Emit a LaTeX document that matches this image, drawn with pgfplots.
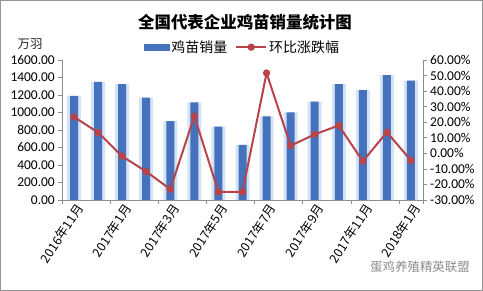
\documentclass[border=0pt]{standalone}
\usepackage{fontspec}
\setmainfont{Carlito}
\newfontfamily\cjk{Noto Sans CJK SC}
\usepackage{pgfplots}
\pgfplotsset{compat=1.18}
\usepackage{pgfplotstable}
\definecolor{barblue}{RGB}{68,114,188}
\definecolor{halo}{RGB}{212,226,245}
\definecolor{linered}{RGB}{184,68,74}
\definecolor{framegray}{RGB}{150,150,150}
\definecolor{axgray}{RGB}{140,140,140}

\pgfplotstableread{
x v
0 1190
1 1350
2 1325
3 1170
4 900
5 1115
6 838
7 630
8 955
9 1002
10 1124
11 1325
12 1257
13 1428
14 1363
}\bars

\pgfplotstableread{
x r
0 23.4
1 13.4
2 -1.9
3 -11.7
4 -23.1
5 23.9
6 -24.8
7 -24.8
8 51.6
9 4.9
10 12.2
11 17.9
12 -5.1
13 13.6
14 -4.6
}\ratio

\begin{document}
\begin{tikzpicture}
\path[use as bounding box] (0bp,0bp) rectangle (483bp,291bp);
\draw[framegray, line width=0.8bp] (0.8bp,0.8bp) rectangle (482.2bp,290.2bp);
\node[font=\cjk\bfseries\fontsize{16.5}{17}\selectfont] at (245bp,269bp) {全国代表企业鸡苗销量统计图};
\node[font=\cjk\fontsize{12.5}{13}\selectfont, text=black!85] at (30bp,247bp) {万羽};
\node[font=\cjk\fontsize{12.5}{13}\selectfont, text=black!45] at (420bp,24bp) {蛋鸡养殖精英联盟};
\begin{axis}[
  at={(62bp,91bp)}, anchor=south west,
  width=361bp, height=140bp, scale only axis,
  xmin=-0.5, xmax=14.5, ymin=0, ymax=1600,
  axis y line*=left, axis x line*=bottom,
  axis line style={axgray, line width=0.6bp},
  ytick={0,200,...,1600},
  tick style={axgray, line width=0.6bp},
  tick align=outside, major tick length=4bp,
  yticklabel style={font=\fontsize{13.5}{14}\selectfont, text=black, inner sep=1bp, xshift=-2bp},
  /pgf/number format/.cd, fixed, fixed zerofill, precision=2, 1000 sep={}, assume math mode=true,
  /pgfplots/.cd,
  xtick={0,2,...,14},
  xticklabels={2016年11月,2017年1月,2017年3月,2017年5月,2017年7月,2017年9月,2017年11月,2018年1月},
  x tick style={draw=none},
  xticklabel style={rotate=57, anchor=east, font=\cjk\fontsize{12.5}{13}\selectfont, inner sep=1bp, yshift=-6bp, xshift=3bp},
  extra x ticks={-0.5,1.5,3.5,5.5,7.5,9.5,11.5,13.5,14.5},
  extra x tick labels={},
  extra x tick style={x tick style={draw=axgray, line width=0.6bp}, major tick length=4bp, tick align=outside},
  clip=false,
]
\addplot[ybar, bar width=14bp, bar shift=0pt, fill=halo, draw=none] table[x=x,y=v]{\bars};
\addplot[ybar, bar width=8bp, bar shift=0pt, fill=barblue, draw=none] table[x=x,y=v]{\bars};
\end{axis}
\begin{axis}[
  at={(62bp,91bp)}, anchor=south west,
  width=361bp, height=140bp, scale only axis,
  xmin=-0.5, xmax=14.5, ymin=-30, ymax=60,
  axis y line*=right, axis x line=none,
  axis line style={axgray, line width=0.6bp},
  ytick={-30,-20,...,60},
  tick style={axgray, line width=0.6bp},
  tick align=outside, major tick length=4bp,
  yticklabel style={font=\fontsize{13.5}{14}\selectfont, text=black, anchor=west, inner sep=1bp, xshift=2bp},
  yticklabel={\pgfmathprintnumber[fixed,fixed zerofill,precision=2,assume math mode=true]{\tick}\%},
  legend columns=2,
  legend style={at={(0.5,1)}, anchor=south, yshift=2bp, draw=none, fill=none,
    font=\cjk\fontsize{14}{14}\selectfont,
    /tikz/every even column/.append style={column sep=6bp}},
  clip=false,
]
\addlegendimage{legend image code/.code={\fill[barblue] (0bp,-3bp) rectangle (25bp,3bp);}}
\addlegendentry{鸡苗销量}
\addplot[linered, line width=2bp, mark=*, mark size=2.6bp, mark options={fill=linered, draw=linered},
  legend image code/.code={\draw[linered, line width=2bp] (0bp,0bp) -- (30bp,0bp); \fill[linered] (15bp,0bp) circle (2.6bp);}]
  table[x=x,y=r]{\ratio};
\addlegendentry{环比涨跌幅}
\end{axis}
\end{tikzpicture}
\end{document}
